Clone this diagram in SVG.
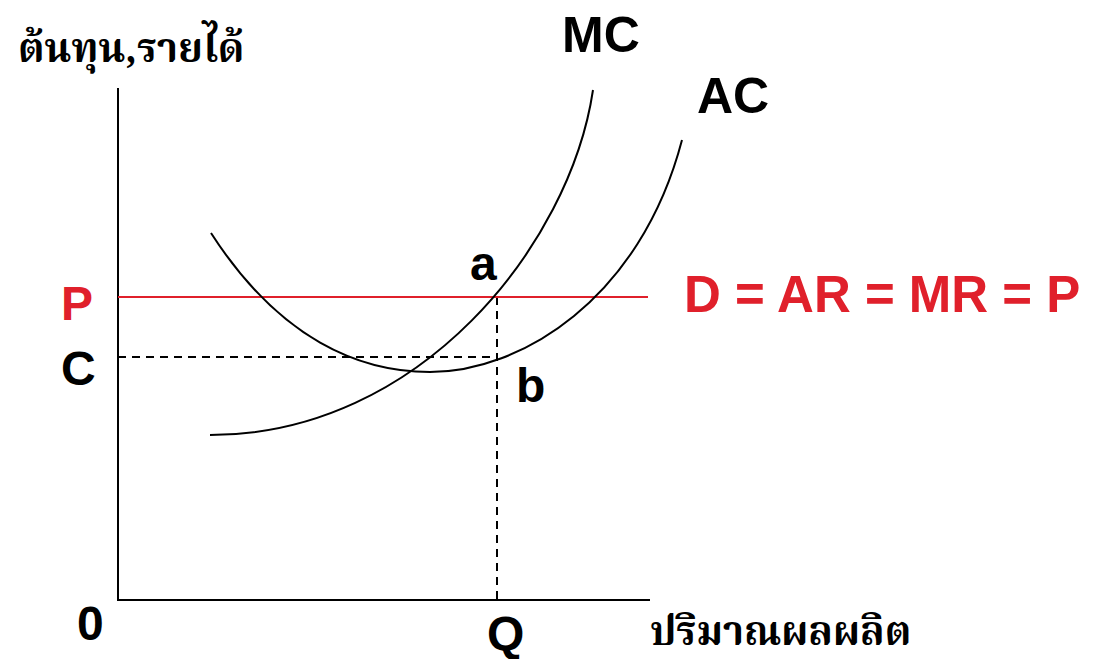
<svg xmlns="http://www.w3.org/2000/svg" width="1099" height="659" viewBox="0 0 1099 659">
<style>
.ax{stroke:#000;stroke-width:2;fill:none}
.cv{stroke:#000;stroke-width:2;fill:none}
.dash{stroke:#000;stroke-width:2;stroke-dasharray:8,6;fill:none}
.red{stroke:#e0202b;stroke-width:2;fill:none}
.lb{font-family:"Liberation Sans",Arial,sans-serif;font-weight:bold;fill:#000}
.lr{font-family:"Liberation Sans",Arial,sans-serif;font-weight:bold;fill:#e0202b}
.th{font-family:"Noto Serif Thai","Noto Sans Thai","Loma","Garuda","DejaVu Sans",serif;font-weight:bold;fill:#000}
</style>
<rect width="1099" height="659" fill="#fff"/>
<g id="connectors">
<path class="ax" d="M118,88 V600 H650"/>
<path class="dash" d="M118,357 H497"/>
<path class="dash" d="M497,297 V600"/>
<path class="red" d="M118,297 H648"/>
</g>
<g id="MC">
<path class="cv" d="M210,435 C420,435 570,245 593,90"/>
<text class="lb" x="562" y="52" font-size="50">MC</text>
</g>
<g id="AC">
<path class="cv" d="M211,233 C280,340 360,372 430,372 C520,372 640,300 682,140"/>
<text class="lb" x="697" y="113" font-size="50">AC</text>
</g>
<g id="demand">
<text class="lr" x="684" y="312" font-size="51">D = AR = MR = P</text>
</g>
<g id="labels">
<text class="lb" x="470" y="280" font-size="48">a</text>
<text class="lb" x="516" y="402" font-size="48">b</text>
<text class="lr" x="61" y="320" font-size="48">P</text>
<text class="lb" x="61" y="385" font-size="48">C</text>
<text class="lb" x="77" y="640" font-size="48">0</text>
<text class="lb" x="487" y="650" font-size="48">Q</text>
<text class="th" x="18" y="62" font-size="40">ต้นทุน,รายได้</text>
<text class="th" x="650" y="645" font-size="40">ปริมาณผลผลิต</text>
</g>
</svg>
